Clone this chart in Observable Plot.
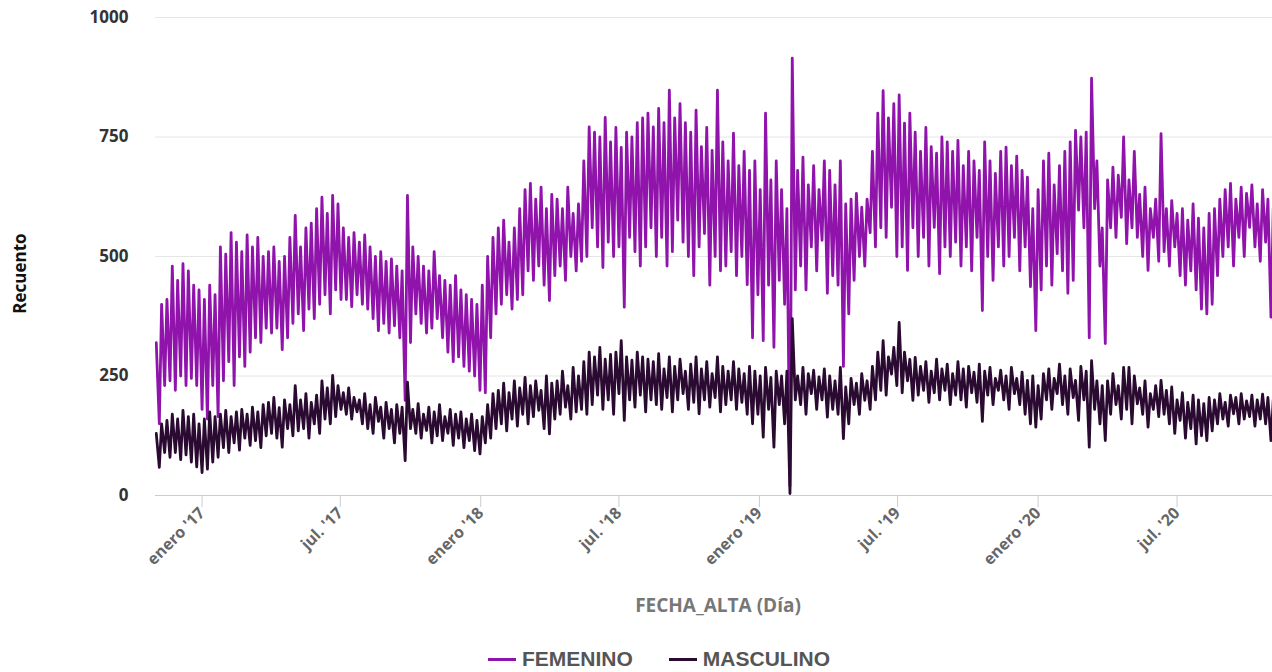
<!DOCTYPE html>
<html>
<head>
<meta charset="utf-8">
<script src="https://cdn.jsdelivr.net/npm/d3@7"></script>
<script src="https://cdn.jsdelivr.net/npm/@observablehq/plot@0.6"></script>
<style>
  html, body { margin: 0; padding: 0; background: #fff; }
  #chart { position: absolute; left: 0; top: 0; }
  #legend { position: absolute; left: 488px; top: 647px; display: flex; align-items: center;
            font-family: "Liberation Sans", Arial, sans-serif; font-weight: bold; font-size: 21px;
            color: #555; line-height: 24px; white-space: nowrap; }
  .sw { display: inline-block; width: 28px; height: 3px; margin-right: 6px; }
  .item { display: flex; align-items: center; margin-right: 36px; }
</style>
</head>
<body>
<div id="chart"></div>
<div id="legend"></div>
<script>
// Weekly series starting the week of Monday 2016-10-31.
// Each week: weekday peak ("high") and weekend trough ("low").
const weekStart = "2016-10-31";
const seriesNames = ["FEMENINO", "MASCULINO"];
const seriesColors = ["#9013ab", "#2a0a30"];

const femHigh = [
  320,400,410,480,450,485,470,440,430,410,
  440,420,520,505,550,530,510,545,520,540,
  500,510,520,490,500,540,586,520,560,570,
  600,624,590,628,610,560,540,550,530,545,
  520,500,510,490,495,480,470,628,520,500,
  480,470,510,460,450,440,460,430,420,410,
  400,440,500,540,560,576,530,560,600,640,
  653,620,645,600,630,620,600,645,590,610,
  700,771,760,750,791,740,770,728,760,750,
  780,790,800,771,810,780,848,790,820,780,
  760,806,730,770,722,848,740,700,758,690,
  720,680,700,640,800,660,700,640,600,915,
  680,708,650,690,640,700,680,650,700,610,
  620,632,603,620,720,800,847,790,820,838,
  779,800,760,720,770,730,716,750,740,720,
  743,690,720,700,680,740,700,674,720,729,
  690,710,680,666,600,640,700,716,650,690,
  720,740,764,750,760,873,700,560,660,687,
  670,750,660,720,630,645,600,620,757,600,
  617,590,600,576,610,580,560,590,600,620,
  640,653,620,645,632,650,610,640,620,600
];
const femLow = [
  150,230,240,220,250,230,245,230,180,160,
  230,165,240,280,230,290,270,300,330,320,
  350,340,350,305,330,360,380,345,390,370,
  400,420,380,430,410,410,395,420,400,390,
  370,345,360,340,355,330,199,320,380,360,
  340,350,370,330,300,280,290,270,260,250,
  220,215,330,380,400,420,390,410,420,470,
  450,480,440,408,460,480,450,500,470,490,
  500,560,520,477,530,500,520,394,540,510,
  480,520,560,500,540,480,510,576,530,500,
  460,520,548,440,500,470,480,510,460,500,
  441,330,420,324,440,310,450,400,20,430,
  480,430,520,470,534,423,460,440,270,380,
  450,500,480,550,520,560,540,603,500,520,
  471,560,500,540,480,561,464,520,500,530,
  480,520,470,540,387,500,450,520,480,500,
  540,470,520,437,345,430,480,440,506,470,
  423,450,597,560,330,600,480,318,560,540,
  582,527,560,540,500,471,540,490,510,480,
  520,460,440,470,430,390,380,400,460,500,
  520,480,540,500,561,520,490,530,373,500
];
const mascHigh = [
  130,150,157,170,160,178,165,170,150,160,
  175,165,170,178,165,175,180,170,185,175,
  190,195,205,184,200,190,230,200,213,195,
  210,240,225,251,230,215,225,205,200,213,
  190,205,185,195,180,190,185,237,180,192,
  170,185,175,190,165,180,170,175,160,170,
  157,165,190,213,220,235,215,240,225,247,
  230,240,220,250,235,240,260,230,268,250,
  280,300,290,310,285,295,300,324,290,283,
  300,290,285,280,297,265,290,270,285,260,
  275,290,265,280,255,290,270,260,280,265,
  255,270,260,250,268,247,260,250,260,370,
  250,268,255,262,248,265,250,240,268,227,
  245,235,255,240,270,300,324,290,310,362,
  300,285,289,270,280,260,285,265,275,255,
  280,265,270,258,275,260,268,245,262,250,
  268,245,258,241,250,230,255,265,245,275,
  250,265,241,270,260,282,240,230,240,255,
  230,268,268,250,225,240,213,230,241,220,
  227,200,215,195,210,200,192,205,200,213,
  195,210,205,213,198,210,200,212,205,200
];
const mascLow = [
  59,90,80,90,75,85,70,60,48,55,
  70,80,100,90,110,95,120,105,115,100,
  125,130,120,101,140,125,135,140,120,150,
  130,160,150,165,180,170,160,175,150,140,
  130,155,120,140,110,130,73,140,130,120,
  136,110,125,115,130,105,120,100,115,94,
  87,110,120,140,150,135,160,145,170,150,
  165,178,140,129,160,170,185,160,175,180,
  170,190,210,180,200,170,213,157,200,185,
  210,175,200,190,180,205,175,200,213,180,
  195,171,200,185,205,175,190,200,180,195,
  170,150,170,122,180,101,190,150,4,200,
  190,170,213,180,200,164,180,170,119,150,
  190,170,199,180,200,220,210,254,230,215,
  240,199,210,220,195,215,200,220,190,210,
  200,185,215,195,155,210,190,220,200,180,
  213,190,170,150,143,160,200,180,213,190,
  170,205,157,200,101,180,150,115,170,190,
  160,180,150,192,170,143,180,165,170,150,
  130,157,120,140,108,125,115,135,150,160,
  145,171,150,160,165,145,160,150,115,150
];

const yTicks = [0, 250, 500, 750, 1000];
const xTickDates = ["2017-01-01","2017-07-01","2018-01-01","2018-07-01","2019-01-01","2019-07-01","2020-01-01","2020-07-01"];
const xDomain = ["2016-11-01", "2020-11-03"];
const monthLabels = {0: "enero", 6: "jul."};
const xTitle = "FECHA_ALTA (Día)";
const yTitle = "Recuento";

// Build the table: a peak point mid-week and a trough point at the weekend.
const start = new Date(weekStart + "T00:00:00Z");
function buildRows(name, highs, lows) {
  const rows = [];
  highs.forEach((h, i) => {
    rows.push({serie: name, date: d3.utcDay.offset(start, 7 * i + 2), value: h});
    rows.push({serie: name, date: d3.utcDay.offset(start, 7 * i + 6), value: lows[i]});
  });
  return rows;
}
const femRows = buildRows(seriesNames[0], femHigh, femLow);
const mascRows = buildRows(seriesNames[1], mascHigh, mascLow);
const ticks = xTickDates.map(s => new Date(s + "T00:00:00Z"));

const chart = Plot.plot({
  width: 1272,
  height: 630,
  marginLeft: 155,
  marginRight: 0,
  marginTop: 17,
  marginBottom: 135,
  style: {fontFamily: "'Open Sans', sans-serif", background: "#fff"},
  x: {type: "utc", domain: xDomain.map(s => new Date(s + "T00:00:00Z"))},
  y: {domain: [0, 1000]},
  marks: [
    Plot.gridY(yTicks, {stroke: "#e6e6e6", strokeOpacity: 1}),
    Plot.ruleY([0], {stroke: "#cccccc"}),
    Plot.axisY(yTicks, {tickSize: 0, tickPadding: 27, fontSize: 17, fontWeight: "bold", fill: "#333", label: null, tickFormat: d => String(d)}),
    Plot.axisX(ticks, {tickSize: 12, stroke: "#cccccc", tickPadding: 3, tickRotate: -45, fontSize: 16, fontWeight: "bold", fill: "#666", label: null,
      tickFormat: d => monthLabels[d.getUTCMonth()] + " '" + String(d.getUTCFullYear()).slice(2)}),
    Plot.lineY(femRows, {x: "date", y: "value", stroke: seriesColors[0], strokeWidth: 2.8, clip: true}),
    Plot.lineY(mascRows, {x: "date", y: "value", stroke: seriesColors[1], strokeWidth: 2.8, clip: true}),
    Plot.text([xTitle], {frameAnchor: "bottom", dy: 116, dx: 4, fontSize: 19, fontWeight: "bold", fill: "#777"}),
    Plot.text([yTitle], {frameAnchor: "left", textAnchor: "middle", dx: -135, dy: 17, rotate: -90, fontSize: 17, fontWeight: "bold", fill: "#111"})
  ]
});
document.getElementById("chart").appendChild(chart);

const legend = document.getElementById("legend");
seriesNames.forEach((n, i) => {
  const item = document.createElement("span");
  item.className = "item";
  const sw = document.createElement("span");
  sw.className = "sw";
  sw.style.background = seriesColors[i];
  item.appendChild(sw);
  item.appendChild(document.createTextNode(n));
  legend.appendChild(item);
});
</script>
</body>
</html>
